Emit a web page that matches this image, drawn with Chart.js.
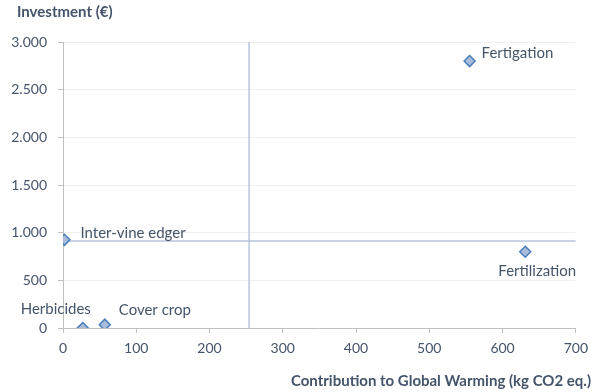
<!DOCTYPE html>
<html><head><meta charset="utf-8">
<script src="https://cdn.jsdelivr.net/npm/chart.js@4"></script>
<style>html,body{margin:0;padding:0;background:#fff}#wrap{width:595px;height:392px}</style>
</head><body><div id="wrap"><canvas id="c"></canvas></div>
<script>
const names = ["Fertigation","Fertilization","Inter-vine edger","Herbicides","Cover crop"];
const warming = [555, 631, 2, 27, 57];
const investment = [2800, 800, 925, 0, 35];
const meanWarming = 254;
const meanInvestment = 912;
const xTicks = [0,100,200,300,400,500,600,700];
const yTicks = [0,500,1000,1500,2000,2500,3000];
const xTitle = "Contribution to Global Warming (kg CO2 eq.)";
const yTitle = "Investment (€)";

// label placement styles (offset from point, alignment)
const labelStyle = [
  {dx:12, dy:-8, align:'left'},
  {dx:12, dy:19, align:'center'},
  {dx:16, dy:-7, align:'left'},
  {dx:-27, dy:-19, align:'center'},
  {dx:14, dy:-15, align:'left'}
];
const TXT = '#44546a';
const FONT = 'Lato, "Open Sans", sans-serif';

const labelPlugin = {
  id:'labels',
  afterDatasetsDraw(chart){
    const ctx = chart.ctx;
    const meta = chart.getDatasetMeta(0);
    ctx.save();
    ctx.fillStyle = TXT;
    ctx.font = '15px ' + FONT;
    ctx.textBaseline = 'middle';
    meta.data.forEach((pt,i)=>{
      const s = labelStyle[i];
      ctx.textAlign = s.align;
      ctx.fillText(names[i], pt.x + s.dx, pt.y + s.dy);
    });
    ctx.font = 'bold 15px ' + FONT;
    ctx.textAlign = 'left';
    ctx.fillText(yTitle, 17, 12);
    ctx.textAlign = 'right';
    ctx.fillText(xTitle, 591, 381);
    ctx.restore();
  }
};

new Chart(document.getElementById('c'), {
  type:'scatter',
  data:{
    datasets:[
      {
        data: warming.map((x,i)=>({x:x, y:investment[i]})),
        pointStyle:'rectRot', pointRadius:5.5, pointHoverRadius:5.5,
        backgroundColor:'#a9bcd9', borderColor:'#4a7ebb', borderWidth:1.5,
        order:0
      },
      {
        type:'line',
        data:[{x:0,y:meanInvestment},{x:700,y:meanInvestment}],
        borderColor:'#b4c6de', borderWidth:1.5, pointRadius:0, order:1
      },
      {
        type:'line',
        data:[{x:meanWarming,y:0},{x:meanWarming,y:3000}],
        borderColor:'#b4c6de', borderWidth:1.5, pointRadius:0, order:1
      }
    ]
  },
  options:{
    responsive:true, maintainAspectRatio:false, animation:false,
    layout:{padding:{top:42,right:17,left:0,bottom:0}},
    plugins:{legend:{display:false}, tooltip:{enabled:false}},
    scales:{
      x:{
        type:'linear', min:0, max:700,
        afterBuildTicks(s){ s.ticks = xTicks.map(v=>({value:v})); },
        afterFit(s){ s.height = 64; },
        grid:{color:'rgba(0,0,0,0)', tickColor:'#bfbfbf', tickLength:5, drawTicks:true},
        border:{color:'#bfbfbf', width:1},
        ticks:{color:TXT, font:{family:FONT, size:14}, padding:7, maxRotation:0}
      },
      y:{
        type:'linear', min:0, max:3000,
        afterBuildTicks(s){ s.ticks = yTicks.map(v=>({value:v})); },
        afterFit(s){ s.width = 63; },
        grid:{color:'#f0f0f0', tickColor:'#bfbfbf', tickLength:5, drawTicks:true},
        border:{color:'#bfbfbf', width:1},
        ticks:{color:TXT, font:{family:FONT, size:14}, padding:11,
          callback:(v)=>v.toString().replace(/\B(?=(\d{3})+(?!\d))/g,'.')}
      }
    }
  },
  plugins:[labelPlugin]
});
</script></body></html>
